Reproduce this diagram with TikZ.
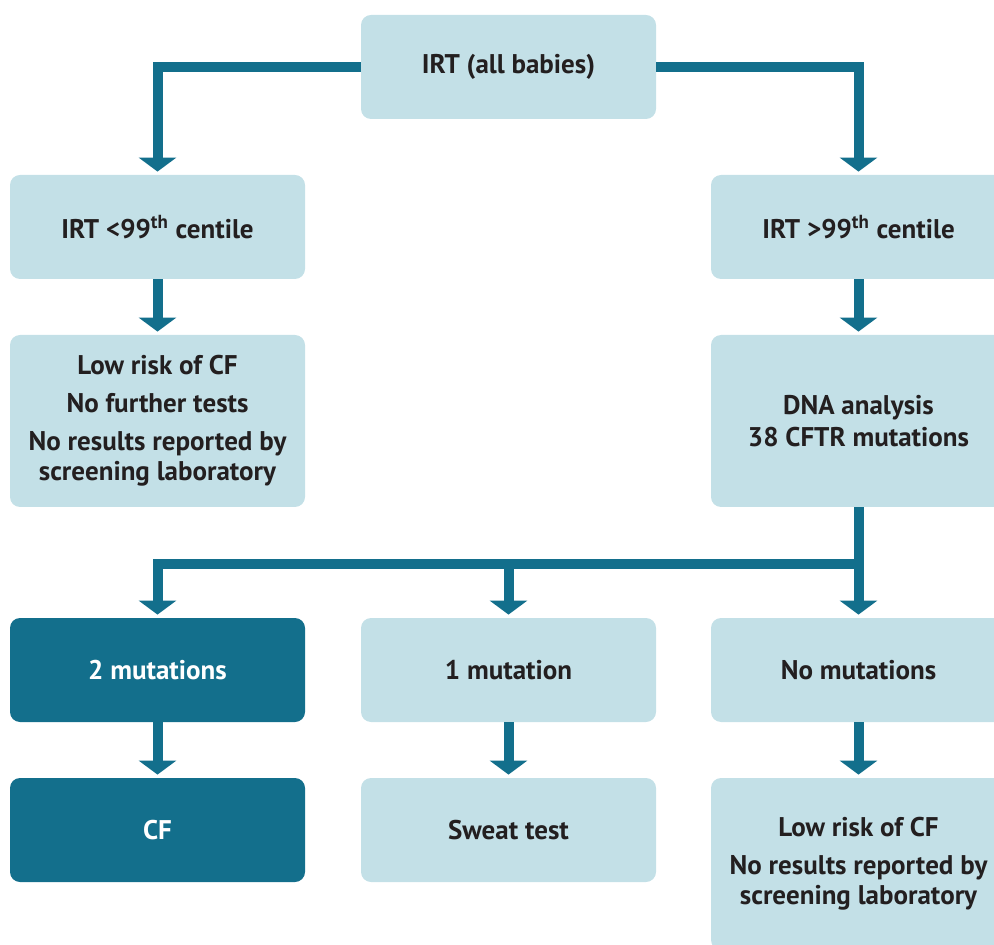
\documentclass[tikz,border=0pt]{standalone}
\usepackage{fontspec}
\setmainfont{PT Sans}
\usetikzlibrary{arrows.meta}
\usetikzlibrary{calc}
\usetikzlibrary{positioning}

\definecolor{boxlight}{RGB}{195,224,231}
\definecolor{boxdark}{RGB}{19,111,140}
\definecolor{boxtext}{RGB}{35,31,32}

\tikzset{
  stage/.style={rectangle,rounded corners=5pt,fill=boxlight,text=boxtext,
    minimum width=147.5pt,minimum height=52pt,inner sep=0pt,align=center,
    font=\fontsize{13.5pt}{15pt}\selectfont\bfseries},
  stagedark/.style={stage,fill=boxdark,text=white},
  flow/.style={color=boxdark,line width=5pt,
    -{Triangle[width=18.5pt,length=7pt]},shorten >=1.5pt}
}

\begin{document}
\begin{tikzpicture}[x=0.5pt,y=-0.5pt]

  \useasboundingbox (0,0) rectangle (994,945);

  \node [stage] (irtAll) at (508.5,67) {IRT (all babies)};

  \node [stage] (irtLow)  at (157.5,227) {IRT <99\textsuperscript{th} centile};
  \node [stage] (irtHigh) at (858.5,227) {IRT >99\textsuperscript{th} centile};

  \node [stage,minimum height=86pt] (lowRisk) at (157.5,421)
    {Low risk of CF\\[4pt] No further tests\\[4pt] No results reported by\\ screening laboratory};
  \node [stage,minimum height=86pt] (dnaAnalysis) at (858.5,421)
    {DNA analysis\\[1pt] 38 CFTR mutations};

  \node [stagedark] (twoMut) at (157.5,670) {2 mutations};
  \node [stage]     (oneMut) at (508.5,670) {1 mutation};
  \node [stage]     (noMut)  at (858.5,670) {No mutations};

  \node [stagedark] (cfResult)  at (157.5,830) {CF};
  \node [stage]     (sweatTest) at (508.5,830) {Sweat test};
  \node [stage,minimum height=86pt] (lowRiskNoMut) at (858.5,864)
    {Low risk of CF\\[4pt] No results reported by\\ screening laboratory};

  \coordinate (split) at (858.5,564);

  \path [draw,flow] (irtAll.west) -| (irtLow.north);
  \path [draw,flow] (irtAll.east) -| (irtHigh.north);

  \path [draw,flow] (irtLow)  edge (lowRisk);
  \path [draw,flow] (irtHigh) edge (dnaAnalysis);

  \path [draw,flow] (dnaAnalysis.south) -- (noMut.north);
  \path [draw,flow] (split) -| (twoMut.north);
  \path [draw,flow] (split -| oneMut.north) -- (oneMut.north);

  \path [draw,flow] (twoMut) edge (cfResult);
  \path [draw,flow] (oneMut) edge (sweatTest);
  \path [draw,flow] (noMut)  edge (lowRiskNoMut);

\end{tikzpicture}
\end{document}
